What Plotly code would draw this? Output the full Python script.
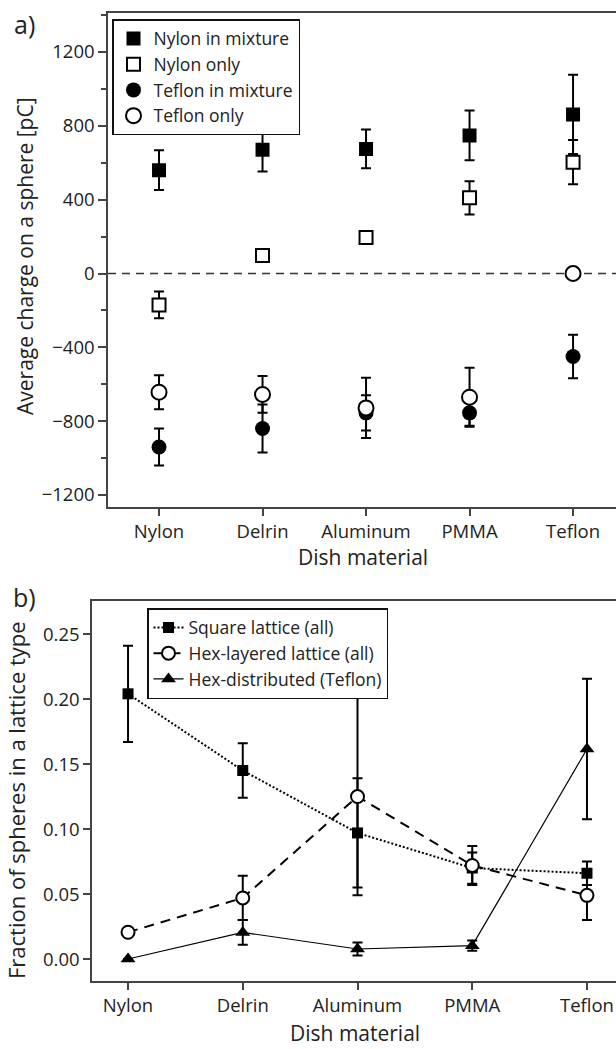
import plotly.graph_objects as go

materials = ["Nylon", "Delrin", "Aluminum", "PMMA", "Teflon"]

# Panel a: average charge on a sphere [pC]
nylon_mix = [560, 670, 675, 748, 862]
nylon_mix_err = [108, 118, 105, 135, 215]
nylon_only = [-170, 97, 195, 410, 603]
nylon_only_err = [72, 15, 15, 90, 120]
teflon_mix = [-940, -840, -755, -755, -450]
teflon_mix_err = [100, 130, 95, 70, 118]
teflon_only = [-643, -655, -728, -670, 0]
teflon_only_err = [92, 100, 163, 160, 15]

# Panel b: fraction of spheres in a lattice type
square_lat = [0.204, 0.145, 0.097, 0.070, 0.066]
square_lat_err = [0.037, 0.021, 0.042, 0.012, 0.009]
hex_layer = [0.0206, 0.047, 0.125, 0.072, 0.049]
hex_layer_err = [0.002, 0.017, 0.076, 0.015, 0.019]
hex_dist = [0.0, 0.0205, 0.0077, 0.0103, 0.1615]
hex_dist_err = [0.0, 0.0095, 0.005, 0.004, 0.054]

a_yticks = [1200, 800, 400, 0, -400, -800, -1200]
b_yticks = [0.00, 0.05, 0.10, 0.15, 0.20, 0.25]

FONT = "Open Sans"
TXT = "#222222"
AX = "#444444"
W, H = 616, 1049

fig = go.Figure()

def err(vals):
    return dict(type="data", array=vals, visible=True, thickness=2, width=5, color="black")

# Panel a traces
fig.add_trace(go.Scatter(x=materials, y=nylon_mix, mode="markers", name="Nylon in mixture",
                         marker=dict(symbol="square", size=14, color="black"),
                         error_y=err(nylon_mix_err), xaxis="x", yaxis="y", legend="legend"))
fig.add_trace(go.Scatter(x=materials, y=nylon_only, mode="markers", name="Nylon only",
                         marker=dict(symbol="square", size=13, color="white", line=dict(color="black", width=2)),
                         error_y=err(nylon_only_err), xaxis="x", yaxis="y", legend="legend"))
fig.add_trace(go.Scatter(x=materials, y=teflon_mix, mode="markers", name="Teflon in mixture",
                         marker=dict(symbol="circle", size=15, color="black"),
                         error_y=err(teflon_mix_err), xaxis="x", yaxis="y", legend="legend"))
fig.add_trace(go.Scatter(x=materials, y=teflon_only, mode="markers", name="Teflon only",
                         marker=dict(symbol="circle", size=15, color="white", line=dict(color="black", width=2)),
                         error_y=err(teflon_only_err), xaxis="x", yaxis="y", legend="legend"))

# Panel b traces
fig.add_trace(go.Scatter(x=materials, y=square_lat, mode="lines+markers", name="Square lattice (all)",
                         line=dict(color="black", width=2, dash="2px,2px"),
                         marker=dict(symbol="square", size=11, color="black"),
                         error_y=err(square_lat_err), xaxis="x2", yaxis="y2", legend="legend2"))
fig.add_trace(go.Scatter(x=materials, y=hex_layer, mode="lines+markers", name="Hex-layered lattice (all)",
                         line=dict(color="black", width=2, dash="10px,7px"),
                         marker=dict(symbol="circle", size=13, color="white", line=dict(color="black", width=2)),
                         error_y=err(hex_layer_err), xaxis="x2", yaxis="y2", legend="legend2"))
fig.add_trace(go.Scatter(x=materials, y=hex_dist, mode="lines+markers", name="Hex-distributed (Teflon)",
                         line=dict(color="black", width=1.2),
                         marker=dict(symbol="triangle-up", size=13, color="black"),
                         error_y=err(hex_dist_err), xaxis="x2", yaxis="y2", legend="legend2"))

def px_x(p):
    return p / W

def px_y(p):
    return 1 - p / H

axis_common = dict(showline=True, linecolor=AX, linewidth=1.5, ticks="outside", tickcolor=AX,
                   tickwidth=1.5, showgrid=False, zeroline=False,
                   tickfont=dict(family=FONT, size=18.5, color=TXT))

fig.update_layout(
    width=W, height=H,
    margin=dict(l=0, r=0, t=0, b=0),
    paper_bgcolor="white", plot_bgcolor="white",
    font=dict(family=FONT, color=TXT),
    xaxis=dict(domain=[px_x(108), 1.0], anchor="y", type="category", range=[-0.493, 4.415],
               ticklen=7, mirror=True, **axis_common),
    yaxis=dict(domain=[px_y(507), px_y(12.5)], anchor="x", range=[-1265, 1414],
               tickvals=a_yticks, ticklen=8,
               minor=dict(dtick=200, ticks="outside", ticklen=5, tickcolor=AX, tickwidth=1.5, showgrid=False),
               **axis_common),
    xaxis2=dict(domain=[px_x(92), 1.0], anchor="y2", type="category", range=[-0.314, 4.253],
                ticklen=7, mirror=True, **axis_common),
    yaxis2=dict(domain=[px_y(981), px_y(601)], anchor="x2", range=[-0.0169, 0.2754],
                tickvals=b_yticks, tickformat=".2f", ticklen=7, **axis_common),
    legend=dict(x=px_x(112), y=px_y(19), xanchor="left", yanchor="top",
                bordercolor="#111", borderwidth=1.5, bgcolor="white",
                font=dict(family=FONT, size=17.5, color=TXT), tracegroupgap=0),
    legend2=dict(x=px_x(147), y=px_y(608), xanchor="left", yanchor="top",
                 bordercolor="#111", borderwidth=1.5, bgcolor="white",
                 font=dict(family=FONT, size=17.5, color=TXT), tracegroupgap=0),
    showlegend=True,
)

# zero reference line in panel a
fig.add_shape(type="line", xref="x domain", yref="y", x0=0, x1=1, y0=0, y1=0,
              line=dict(color="#333", width=1.5, dash="8px,6px"), layer="below")

annos = [
    dict(text="a)", x=px_x(24), y=px_y(24), size=25),
    dict(text="b)", x=px_x(24), y=px_y(597), size=25),
    dict(text="Dish material", x=px_x(363), y=px_y(557), size=21),
    dict(text="Dish material", x=px_x(355), y=px_y(1033), size=21),
]
for a in annos:
    fig.add_annotation(text=a["text"], x=a["x"], y=a["y"], xref="paper", yref="paper",
                       xanchor="center", yanchor="middle", showarrow=False,
                       font=dict(family=FONT, size=a["size"], color=TXT))

fig.add_annotation(text="Average charge on a sphere [pC]", x=px_x(25), y=px_y(256), xref="paper", yref="paper",
                   textangle=-90, showarrow=False, xanchor="center", yanchor="middle",
                   font=dict(family=FONT, size=21, color=TXT))
fig.add_annotation(text="Fraction of spheres in a lattice type", x=px_x(16), y=px_y(800), xref="paper", yref="paper",
                   textangle=-90, showarrow=False, xanchor="center", yanchor="middle",
                   font=dict(family=FONT, size=22, color=TXT))

fig.write_html("out.html", config={"displayModeBar": False},
               post_script="document.body.style.margin='0';document.body.style.overflow='hidden';")
